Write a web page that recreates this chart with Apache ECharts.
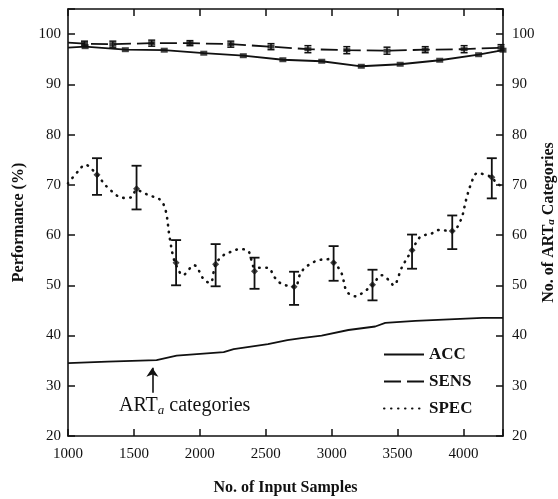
<!DOCTYPE html>
<html>
<head>
<meta charset="utf-8">
<script src="https://cdn.jsdelivr.net/npm/echarts@6.0.0/dist/echarts.min.js"></script>
<style>
  html, body { margin: 0; padding: 0; background: #fff; }
  #chart { width: 558px; height: 499px; }
</style>
</head>
<body>
<div id="chart"></div>
<script>
// ACC (solid, square markers)
const accX = [1000, 1130, 1435, 1730, 2030, 2330, 2630, 2925, 3225, 3520, 3820, 4115, 4300];
const accY = [97.3, 97.5, 96.9, 96.8, 96.2, 95.7, 94.9, 94.6, 93.6, 94.0, 94.8, 95.9, 96.8];

// SENS (dashed, square markers with small error bars)
const sensX = [1000, 1125, 1340, 1635, 1925, 2235, 2540, 2820, 3115, 3420, 3710, 4005, 4285];
const sensY = [98.3, 98.1, 98.0, 98.2, 98.2, 98.0, 97.5, 97.0, 96.8, 96.7, 96.9, 97.0, 97.3];
const sensErr = [0, 0.5, 0.6, 0.6, 0.5, 0.6, 0.6, 0.7, 0.7, 0.7, 0.6, 0.7, 0.6];

// SPEC dotted curve
const specX = [1000, 1080, 1130, 1220, 1300, 1420, 1480, 1520, 1580, 1630, 1700, 1740, 1770, 1800, 1830, 1870,
  1955, 2035, 2080, 2120, 2180, 2240, 2300, 2365, 2420, 2515, 2570, 2620, 2720, 2770, 2870, 2975, 3020, 3075,
  3115, 3180, 3240, 3310, 3380, 3435, 3470, 3535, 3610, 3675, 3750, 3815, 3915, 3980, 4020, 4055, 4105, 4215,
  4250, 4300];
const specY = [70.3, 72.8, 74.0, 72.0, 69.5, 67.4, 67.5, 69.0, 68.3, 67.8, 67.0, 65.0, 59.7, 55.5, 53.5, 52.0,
  54.0, 51.0, 50.5, 54.2, 56.0, 56.7, 57.2, 56.9, 53.5, 53.5, 51.5, 50.3, 49.7, 52.7, 54.7, 55.2, 54.5, 52.4,
  48.8, 47.8, 48.6, 50.1, 52.0, 51.0, 50.0, 53.7, 57.0, 59.7, 60.2, 61.0, 60.8, 63.0, 67.0, 70.0, 72.3, 71.5,
  70.3, 69.7];

// SPEC means with error bars
const specBarX = [1220, 1520, 1820, 2120, 2415, 2715, 3015, 3310, 3610, 3915, 4215];
const specMean = [72.0, 69.2, 54.5, 54.2, 52.8, 49.7, 54.5, 50.1, 57.0, 60.8, 71.5];
const specLow  = [68.0, 65.1, 50.0, 49.8, 49.3, 46.1, 50.9, 47.0, 53.3, 57.2, 67.3];
const specHigh = [75.3, 73.8, 59.0, 58.2, 55.5, 52.7, 57.8, 53.1, 60.1, 63.9, 75.3];

// number of ART_a categories (right axis)
const artX = [1000, 1300, 1672, 1824, 2181, 2257, 2517, 2664, 2771, 2924, 3127, 3331, 3407, 3636, 3891, 4145, 4300];
const artY = [34.5, 34.8, 35.1, 36.0, 36.7, 37.3, 38.3, 39.1, 39.5, 40.0, 41.1, 41.8, 42.5, 42.9, 43.2, 43.5, 43.5];

const xTicks = [1000, 1500, 2000, 2500, 3000, 3500, 4000];
const yTicks = [20, 30, 40, 50, 60, 70, 80, 90, 100];

const serif = '"Liberation Serif", "DejaVu Serif", serif';
const ink = '#111';

const zip = (xs, ys) => xs.map((x, i) => [x, ys[i]]);

// error bar drawing through the axes
const errorBar = (capHalf, lw) => function (params, api) {
  const x = api.value(0);
  const lo = api.coord([x, api.value(1)]);
  const hi = api.coord([x, api.value(2)]);
  const st = { stroke: ink, lineWidth: lw };
  return {
    type: 'group',
    children: [
      { type: 'line', shape: { x1: lo[0], y1: lo[1], x2: hi[0], y2: hi[1] }, style: st },
      { type: 'line', shape: { x1: lo[0] - capHalf, y1: lo[1], x2: lo[0] + capHalf, y2: lo[1] }, style: st },
      { type: 'line', shape: { x1: hi[0] - capHalf, y1: hi[1], x2: hi[0] + capHalf, y2: hi[1] }, style: st }
    ]
  };
};

const axisLine = { show: true, lineStyle: { color: ink, width: 1.6 } };
const axisTick = { show: true, inside: true, length: 7, lineStyle: { color: ink, width: 1.5 } };

const chart = echarts.init(document.getElementById('chart'));

const option = {
  animation: false,
  backgroundColor: '#fff',
  grid: { left: 68, right: 55, top: 9, bottom: 63, outerBoundsMode: 'none', containLabel: false },
  legend: {
    orient: 'vertical',
    left: 378,
    top: 341,
    itemWidth: 40,
    itemHeight: 14,
    itemGap: 10,
    data: ['ACC', 'SENS', 'SPEC'],
    itemStyle: { opacity: 0 },
    textStyle: { fontFamily: serif, fontWeight: 'bold', fontSize: 17, color: ink }
  },
  xAxis: [
    {
      type: 'value', min: 1000, max: 4300, interval: 500, position: 'bottom',
      axisLine, axisTick,
      splitLine: { show: false },
      axisLabel: {
        color: ink, fontFamily: serif, fontSize: 15, margin: 11,
        formatter: v => (xTicks.includes(v) ? String(v) : '')
      },
      name: 'No. of Input Samples', nameLocation: 'middle', nameGap: 44,
      nameTextStyle: { fontFamily: serif, fontWeight: 'bold', fontSize: 16, color: ink }
    },
    {
      type: 'value', min: 1000, max: 4300, interval: 500, position: 'top',
      axisLine, axisTick, splitLine: { show: false }, axisLabel: { show: false }
    }
  ],
  yAxis: [
    {
      type: 'value', min: 20, max: 105, interval: 10, position: 'left',
      axisLine, axisTick, splitLine: { show: false },
      axisLabel: {
        color: ink, fontFamily: serif, fontSize: 15, margin: 7,
        formatter: v => (yTicks.includes(v) ? String(v) : '')
      },
      name: 'Performance (%)', nameLocation: 'middle', nameGap: 41,
      nameTextStyle: { fontFamily: serif, fontWeight: 'bold', fontSize: 16, color: ink }
    },
    {
      type: 'value', min: 20, max: 105, interval: 10, position: 'right',
      axisLine, axisTick, splitLine: { show: false },
      axisLabel: {
        color: ink, fontFamily: serif, fontSize: 15, margin: 9,
        formatter: v => (yTicks.includes(v) ? String(v) : '')
      },
      name: 'No. of ART{a|a} Categories', nameLocation: 'middle', nameGap: 38,
      nameMoveOverlap: false,
      nameTextStyle: {
        fontFamily: serif, fontWeight: 'bold', fontSize: 16, color: ink,
        rich: { a: { fontFamily: serif, fontWeight: 'bold', fontStyle: 'italic', fontSize: 11, verticalAlign: 'bottom', padding: [5, 0, 0, 0] } }
      }
    }
  ],
  graphic: [
    {
      type: 'text', left: 119, top: 396,
      style: {
        text: 'ART{a|a} categories',
        fill: ink,
        font: '20px "Liberation Serif", serif',
        rich: { a: { fontFamily: serif, fontStyle: 'italic', fontSize: 13, verticalAlign: 'bottom', padding: [9, 0, 0, 0], fill: ink } }
      }
    }
  ],
  series: [
    {
      name: 'ACC', type: 'line', data: zip(accX, accY), symbol: 'none',
      lineStyle: { color: ink, width: 1.8 }, itemStyle: { color: ink }, z: 3
    },
    {
      name: 'ACC pts', type: 'scatter', data: zip(accX.slice(1), accY.slice(1)),
      symbol: 'rect', symbolSize: [7, 5], itemStyle: { color: ink }, z: 4
    },
    {
      name: 'SENS', type: 'line', data: zip(sensX, sensY), symbol: 'none',
      lineStyle: { color: ink, width: 1.8, type: [17, 6] }, itemStyle: { color: ink }, z: 3
    },
    {
      name: 'SENS pts', type: 'scatter', data: zip(sensX.slice(1), sensY.slice(1)),
      symbol: 'rect', symbolSize: [7, 4], itemStyle: { color: ink }, z: 4
    },
    {
      name: 'SENS err', type: 'custom',
      data: sensX.slice(1).map((x, i) => [x, sensY[i + 1] - sensErr[i + 1], sensY[i + 1] + sensErr[i + 1]]),
      renderItem: errorBar(3.5, 1.5), z: 4
    },
    {
      name: 'SPEC', type: 'line', data: zip(specX, specY), symbol: 'none', smooth: 0.35,
      lineStyle: { color: ink, width: 2.6, type: [0.5, 6.5], cap: 'round' }, itemStyle: { color: ink }, z: 3
    },
    {
      name: 'SPEC err', type: 'custom',
      data: specBarX.map((x, i) => [x, specLow[i], specHigh[i]]),
      renderItem: errorBar(5, 1.8), z: 4
    },
    {
      name: 'SPEC mean', type: 'scatter', data: zip(specBarX, specMean),
      symbol: 'diamond', symbolSize: 7, itemStyle: { color: ink }, z: 5
    },
    {
      name: 'ART categories', type: 'line', yAxisIndex: 1, data: zip(artX, artY), symbol: 'none',
      lineStyle: { color: ink, width: 1.8 }, z: 3,
      markLine: {
        silent: true, symbol: ['none', 'arrow'], symbolSize: [9, 9],
        lineStyle: { color: ink, width: 1.6, type: 'solid' },
        label: { show: false },
        data: [[{ coord: [1640, 28.6] }, { coord: [1640, 33.6] }]]
      }
    }
  ]
};

chart.setOption(option);
</script>
</body>
</html>
